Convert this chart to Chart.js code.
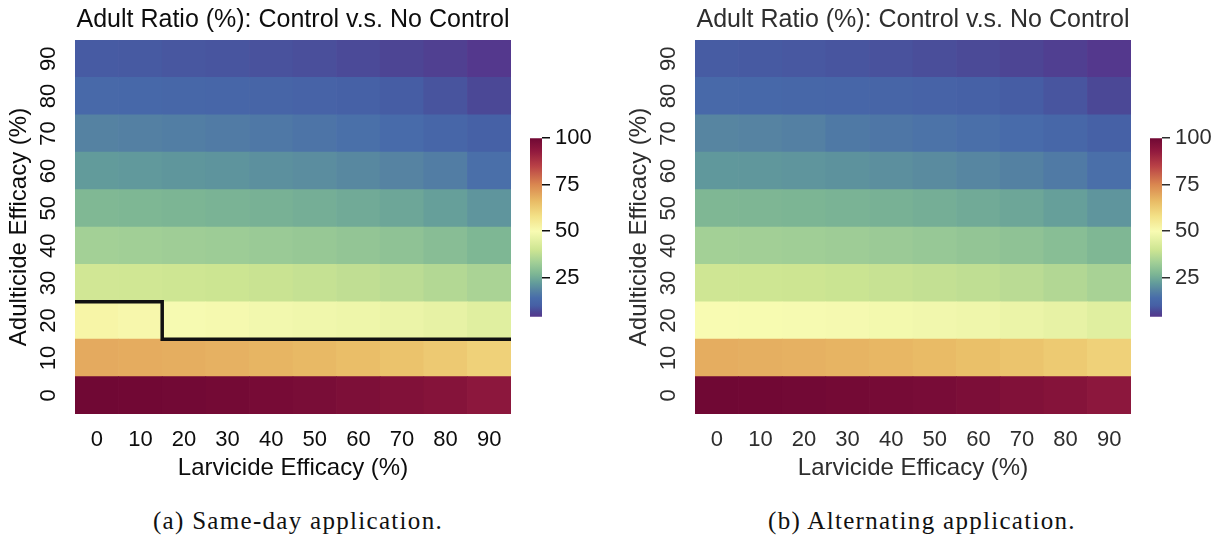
<!DOCTYPE html>
<html>
<head>
<meta charset="utf-8">
<script src="https://cdn.jsdelivr.net/npm/chart.js@4.4.1/dist/chart.umd.min.js"></script>
<style>
  html, body { margin: 0; padding: 0; background: #fff; }
  body { position: relative; width: 1220px; height: 540px; overflow: hidden; }
  .panel { position: absolute; }
  .caption {
    position: absolute; top: 507px; width: 460px; text-align: center;
    font-family: "Liberation Serif", "DejaVu Serif", serif; font-size: 25px;
    letter-spacing: 1.3px; color: #111;
  }
</style>
</head>
<body>
<div class="panel" style="left:0;top:0"><canvas id="heatSameDay" width="520" height="490"></canvas></div>
<div class="panel" style="left:520px;top:120px"><canvas id="barSameDay" width="90" height="215"></canvas></div>
<div class="panel" style="left:620px;top:0"><canvas id="heatAlternating" width="520" height="490"></canvas></div>
<div class="panel" style="left:1140px;top:120px"><canvas id="barAlternating" width="90" height="215"></canvas></div>
<div class="caption" style="left:68px">(a) Same-day application.</div>
<div class="caption" style="left:692px">(b) Alternating application.</div>

<script>
// Axis categories (efficacy levels, %)
const larvicideLabels = ['0', '10', '20', '30', '40', '50', '60', '70', '80', '90'];
const adulticideLabels = ['0', '10', '20', '30', '40', '50', '60', '70', '80', '90'];

// Adult ratio (%) with control vs. no control; one row per adulticide level,
// one entry per larvicide level.
const sameDayRatio = [
  [100, 99.8, 99.5, 99.1, 98.6, 98.0, 97.3, 96.4, 95.5, 94.0],
  [69.0, 68.7, 68.3, 67.8, 67.2, 66.5, 65.6, 64.5, 63.2, 61.5],
  [52.0, 51.2, 49.6, 49.2, 48.7, 48.2, 47.6, 46.9, 46.0, 44.5],
  [41.0, 40.7, 40.3, 39.9, 39.4, 38.8, 38.0, 37.2, 36.0, 34.5],
  [33.5, 33.2, 32.8, 32.4, 32.0, 31.4, 30.8, 30.0, 28.8, 27.2],
  [27.5, 27.2, 26.8, 26.4, 26.0, 25.5, 24.8, 24.0, 22.8, 21.0],
  [22.0, 21.6, 21.2, 20.8, 20.3, 19.7, 19.0, 18.2, 17.0, 14.5],
  [18.0, 17.6, 17.2, 16.7, 16.2, 15.5, 14.7, 13.6, 12.3, 10.5],
  [13.0, 12.8, 12.5, 12.2, 11.8, 11.3, 10.6, 9.8, 8.6, 7.0],
  [9.5, 9.3, 9.0, 8.7, 8.3, 7.9, 7.3, 6.4, 5.5, 4.2]
];

const alternatingRatio = [
  [100, 99.8, 99.5, 99.2, 98.8, 98.2, 97.4, 96.5, 95.5, 94.0],
  [68.5, 68.2, 67.8, 67.3, 66.8, 66.1, 65.2, 64.2, 63.0, 61.5],
  [49.9, 49.8, 49.6, 49.3, 48.9, 48.4, 47.8, 47.0, 46.0, 44.5],
  [40.5, 40.3, 40.0, 39.6, 39.1, 38.5, 37.8, 37.0, 35.8, 34.3],
  [33.5, 33.3, 33.0, 32.6, 32.1, 31.5, 30.8, 30.0, 28.9, 27.3],
  [27.3, 27.1, 26.8, 26.4, 26.0, 25.5, 24.8, 24.0, 22.8, 21.0],
  [21.5, 21.3, 21.0, 20.6, 20.1, 19.5, 18.7, 17.8, 16.5, 14.5],
  [18.5, 18.2, 17.7, 16.3, 15.8, 15.2, 14.5, 13.6, 12.4, 10.6],
  [13.0, 12.8, 12.6, 12.2, 11.8, 11.3, 10.6, 9.8, 8.7, 7.0],
  [9.6, 9.4, 9.1, 8.7, 8.3, 7.8, 7.2, 6.4, 5.4, 4.2]
];

// Colour scale range and colour-bar ticks
const colorRange = [4, 100];
const colorbarTicks = [25, 50, 75, 100];
// Level outlined on the same-day map
const contourLevel = 50;

// Spectral-like diverging palette: [value, r, g, b]
const paletteStops = [
  [4, 85, 55, 140], [7, 75, 72, 150], [10, 70, 95, 165], [14, 72, 108, 170],
  [18, 85, 130, 162], [22, 98, 155, 155], [27, 125, 182, 148], [33, 160, 206, 150],
  [40, 205, 229, 146], [50, 248, 251, 178], [58, 243, 225, 135], [66, 233, 188, 102],
  [75, 218, 135, 80], [85, 185, 65, 70], [93, 145, 25, 62], [100, 112, 8, 52]
];

function colorFor(v) {
  if (v <= paletteStops[0][0]) return rgb(paletteStops[0]);
  for (let i = 1; i < paletteStops.length; i++) {
    const a = paletteStops[i - 1], b = paletteStops[i];
    if (v <= b[0]) {
      const t = (v - a[0]) / (b[0] - a[0]);
      return `rgb(${Math.round(a[1] + t * (b[1] - a[1]))},${Math.round(a[2] + t * (b[2] - a[2]))},${Math.round(a[3] + t * (b[3] - a[3]))})`;
    }
  }
  return rgb(paletteStops[paletteStops.length - 1]);
}
function rgb(s) { return `rgb(${s[1]},${s[2]},${s[3]})`; }

const FONT = '"Liberation Sans", Arial, sans-serif';

// Outline of the region at or above the level: for each column, count the rows
// (from the bottom) whose value reaches it, then trace the cell edges.
function contourPoints(values, level) {
  const pts = [];
  larvicideLabels.forEach((_, j) => {
    let n = 0;
    while (n < values.length && values[n][j] >= level) n++;
    pts.push({ x: j - 0.5, y: n }, { x: j + 0.5, y: n });
  });
  return pts;
}

function heatmapConfig(values, textColor, withContour) {
  const datasets = values.map((row, i) => ({
    type: 'bar',
    label: adulticideLabels[i],
    data: row.map(() => [i, i + 1]),
    backgroundColor: row.map(colorFor),
    borderWidth: 0,
    barPercentage: 1,
    categoryPercentage: 1,
    grouped: false,
    xAxisID: 'x',
    yAxisID: 'y',
    order: 1
  }));
  if (withContour) {
    datasets.push({
      type: 'line',
      label: 'contour',
      data: contourPoints(values, contourLevel),
      borderColor: '#111',
      borderWidth: 3.5,
      borderJoinStyle: 'miter',
      pointRadius: 0,
      fill: false,
      tension: 0,
      xAxisID: 'xc',
      yAxisID: 'y',
      order: 0
    });
  }
  return {
    type: 'bar',
    data: { labels: larvicideLabels, datasets },
    options: {
      responsive: false,
      animation: false,
      events: [],
      layout: { padding: { left: 0, right: 9, top: 0, bottom: 0 } },
      plugins: {
        legend: { display: false },
        tooltip: { enabled: false },
        title: {
          display: true,
          text: 'Adult Ratio (%): Control v.s. No Control',
          fullSize: false,
          color: textColor,
          font: { family: FONT, size: 25, weight: 'normal' },
          padding: { top: 5, bottom: 5 }
        }
      },
      scales: {
        x: {
          type: 'category',
          offset: true,
          grid: { display: false, drawTicks: false },
          border: { display: false },
          ticks: { color: textColor, font: { family: FONT, size: 22 }, padding: 13, maxRotation: 0, autoSkip: false },
          title: {
            display: true, text: 'Larvicide Efficacy (%)', color: textColor,
            font: { family: FONT, size: 24 }, padding: { top: 0, bottom: 7.6 }
          },
          afterFit: s => { s.height = 76; }
        },
        xc: {
          type: 'linear', display: false, offset: false,
          min: -0.5, max: larvicideLabels.length - 0.5
        },
        y: {
          type: 'linear',
          min: 0, max: adulticideLabels.length,
          grid: { display: false, drawTicks: false },
          border: { display: false },
          afterBuildTicks: s => { s.ticks = adulticideLabels.map((_, i) => ({ value: i + 0.5 })); },
          ticks: {
            color: textColor, font: { family: FONT, size: 22 },
            minRotation: 90, maxRotation: 90, crossAlign: 'center', padding: 14, autoSkip: false,
            callback: v => adulticideLabels[Math.floor(v)]
          },
          title: {
            display: true, text: 'Adulticide Efficacy (%)', color: textColor,
            font: { family: FONT, size: 24 }, padding: { top: 4.6, bottom: 0 }
          },
          afterFit: s => { s.width = 75; }
        }
      }
    }
  };
}

function colorbarConfig(textColor) {
  return {
    type: 'bar',
    data: {
      labels: [''],
      datasets: [{
        data: [colorRange],
        barPercentage: 1,
        categoryPercentage: 1,
        borderWidth: 0,
        backgroundColor: ctx => {
          const chart = ctx.chart;
          const y = chart.scales.y;
          if (!chart.chartArea || !y) return colorFor(50);
          const lo = colorRange[0], hi = colorRange[1];
          const g = chart.ctx.createLinearGradient(0, y.getPixelForValue(lo), 0, y.getPixelForValue(hi));
          paletteStops.forEach(s => g.addColorStop((s[0] - lo) / (hi - lo), rgb(s)));
          return g;
        }
      }]
    },
    options: {
      responsive: false,
      animation: false,
      events: [],
      layout: { padding: { left: 10, right: 4, top: 12, bottom: 15 } },
      plugins: { legend: { display: false }, tooltip: { enabled: false } },
      scales: {
        x: { display: false },
        y: {
          position: 'right',
          min: colorRange[0], max: colorRange[1],
          afterBuildTicks: s => { s.ticks = colorbarTicks.map(v => ({ value: v })); },
          grid: { drawOnChartArea: false, drawTicks: true, tickLength: 8, color: textColor, lineWidth: 1.5 },
          border: { display: false },
          ticks: { color: textColor, font: { family: FONT, size: 22 }, padding: 5 },
          afterFit: s => { s.width = 64; }
        }
      }
    }
  };
}

new Chart(document.getElementById('heatSameDay'), heatmapConfig(sameDayRatio, '#0d0d0d', true));
new Chart(document.getElementById('barSameDay'), colorbarConfig('#0d0d0d'));
new Chart(document.getElementById('heatAlternating'), heatmapConfig(alternatingRatio, '#2e2e2e', false));
new Chart(document.getElementById('barAlternating'), colorbarConfig('#2e2e2e'));
</script>
</body>
</html>
